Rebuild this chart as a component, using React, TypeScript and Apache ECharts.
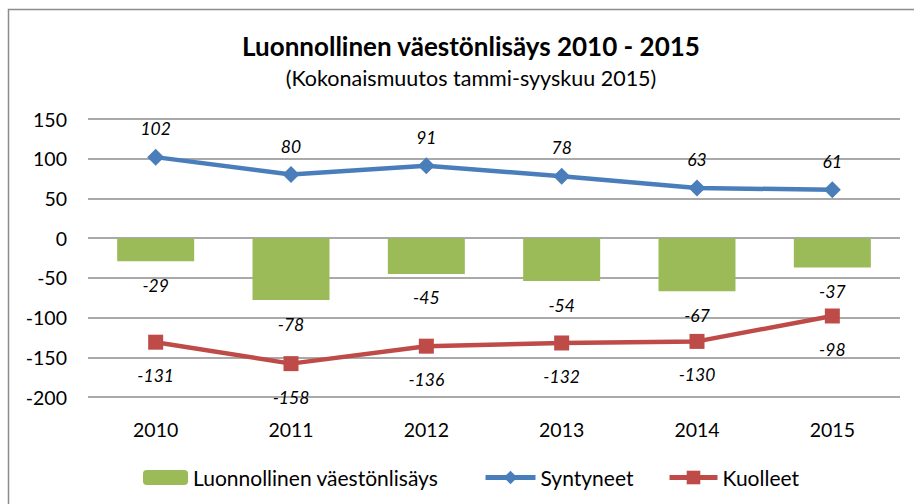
import React, { useEffect, useRef } from "react";
import * as echarts from "echarts";

const years = ["2010", "2011", "2012", "2013", "2014", "2015"];
const luonnollinen = [-29, -78, -45, -54, -67, -37];
const syntyneet = [102, 80, 91, 78, 63, 61];
const kuolleet = [-131, -158, -136, -132, -130, -98];

const FONT = "Lato, 'Noto Sans', sans-serif";
const GREEN = "#9BBB59";
const BLUE = "#4A7EBB";
const RED = "#BE4B48";

export default function App() {
  const ref = useRef<HTMLDivElement>(null);
  useEffect(() => {
    const chart = echarts.init(ref.current!, undefined, { renderer: "svg" });
    const labelStyle = { fontFamily: FONT, fontSize: 17.5, fontStyle: "italic" as const, color: "#000" };
    const legendText = { fontFamily: FONT, fontSize: 21, color: "#000" };
    chart.setOption({
      animation: false,
      backgroundColor: "#fff",
      textStyle: { fontFamily: FONT },
      title: {
        text: "Luonnollinen väestönlisäys 2010 - 2015",
        subtext: "(Kokonaismuutos tammi-syyskuu 2015)",
        left: 466,
        textAlign: "center",
        top: 28,
        itemGap: 8,
        textStyle: { fontFamily: FONT, fontSize: 26, fontWeight: "bold", color: "#000" },
        subtextStyle: { fontFamily: FONT, fontSize: 21.5, color: "#000" },
      },
      graphic: [
        {
          type: "rect",
          shape: { x: 8.5, y: 9.5, width: 1000, height: 600 },
          style: { fill: "none", stroke: "#8c8c8c", lineWidth: 1.5 },
          silent: true,
        },
      ],
      grid: { left: 88, right: 14, top: 119, bottom: 107, containLabel: false },
      xAxis: {
        type: "category",
        data: years,
        axisLine: { show: false },
        axisTick: { show: false },
        axisLabel: { color: "#000", fontFamily: FONT, fontSize: 19.5, margin: 22 },
      },
      yAxis: {
        type: "value",
        min: -200,
        max: 150,
        interval: 50,
        axisLine: { show: false },
        axisTick: { show: false },
        axisLabel: { color: "#000", fontFamily: FONT, fontSize: 19.5, margin: 21 },
        splitLine: { lineStyle: { color: "#8c8c8c", width: 1.5 } },
      },
      legend: [
        {
          data: ["Luonnollinen väestönlisäys"],
          left: 143,
          top: 467,
          padding: 0,
          itemWidth: 45,
          itemHeight: 15,
          textStyle: legendText,
        },
        {
          data: ["Syntyneet"],
          left: 483,
          top: 467,
          padding: 0,
          itemWidth: 50,
          itemHeight: 17,
          lineStyle: { width: 5 },
          textStyle: legendText,
        },
        {
          data: ["Kuolleet"],
          left: 667,
          top: 467,
          padding: 0,
          itemWidth: 48,
          itemHeight: 17,
          lineStyle: { width: 5 },
          textStyle: legendText,
        },
      ],
      series: [
        {
          name: "Luonnollinen väestönlisäys",
          type: "bar",
          data: luonnollinen,
          barWidth: 77,
          itemStyle: { color: GREEN },
          label: { show: true, position: "outside", distance: 15, ...labelStyle },
        },
        {
          name: "Syntyneet",
          type: "line",
          data: syntyneet,
          symbol: "diamond",
          symbolSize: 17,
          lineStyle: { color: BLUE, width: 4.5 },
          itemStyle: { color: BLUE },
          label: { show: true, position: "top", distance: 11, ...labelStyle },
        },
        {
          name: "Kuolleet",
          type: "line",
          data: kuolleet,
          symbol: "rect",
          symbolSize: 15,
          lineStyle: { color: RED, width: 4.5 },
          itemStyle: { color: RED },
          label: { show: true, position: "bottom", distance: 17, ...labelStyle },
        },
      ],
    });
    return () => chart.dispose();
  }, []);
  return (
    <div
      ref={ref}
      style={{ position: "fixed", left: 0, top: 0, width: 914, height: 504 }}
    />
  );
}
